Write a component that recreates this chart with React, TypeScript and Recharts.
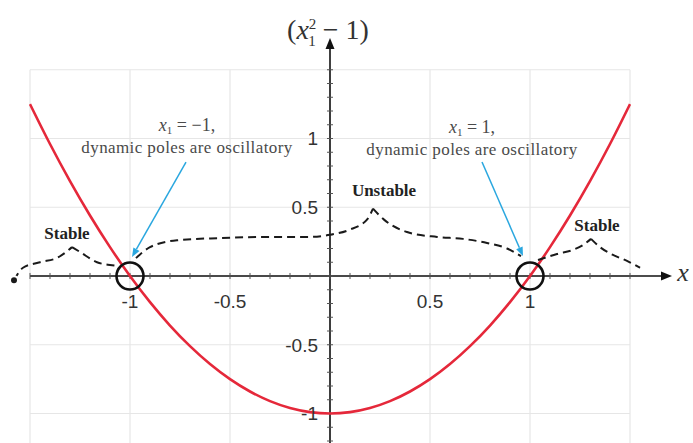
import React from 'react';
import { ComposedChart, Line, XAxis, YAxis, ReferenceLine, ReferenceDot } from 'recharts';

// f(x) = x^2 - 1 sampled every 0.1
const curveX = [-1.5, -1.4, -1.3, -1.2, -1.1, -1.0, -0.9, -0.8, -0.7, -0.6, -0.5, -0.4, -0.3, -0.2, -0.1, 0,
  0.1, 0.2, 0.3, 0.4, 0.5, 0.6, 0.7, 0.8, 0.9, 1.0, 1.1, 1.2, 1.3, 1.4, 1.5];
const curveY = [1.25, 0.96, 0.69, 0.44, 0.21, 0, -0.19, -0.36, -0.51, -0.64, -0.75, -0.84, -0.91, -0.96, -0.99, -1,
  -0.99, -0.96, -0.91, -0.84, -0.75, -0.64, -0.51, -0.36, -0.19, 0, 0.21, 0.44, 0.69, 0.96, 1.25];

// Dashed braces marking the stability regions (each brace = two halves meeting at its tip)
const stableLeftAX = [-1.58, -1.535, -1.45, -1.36, -1.29];
const stableLeftAY = [-0.03, 0.06, 0.1, 0.135, 0.21];
const stableLeftBX = [-1.29, -1.25, -1.165, -1.1, -1.06];
const stableLeftBY = [0.21, 0.175, 0.1, 0.08, 0.073];

const unstableAX = [-0.97, -0.9, -0.765, -0.545, -0.325, -0.105, 0, 0.095, 0.185, 0.215];
const unstableAY = [0.13, 0.21, 0.26, 0.276, 0.284, 0.284, 0.3, 0.335, 0.41, 0.49];
const unstableBX = [0.215, 0.27, 0.385, 0.535, 0.665, 0.785, 0.885, 0.955];
const unstableBY = [0.49, 0.41, 0.32, 0.284, 0.27, 0.24, 0.2, 0.145];

const stableRightAX = [1.04, 1.135, 1.215, 1.265, 1.305];
const stableRightAY = [0.116, 0.16, 0.19, 0.225, 0.27];
const stableRightBX = [1.305, 1.35, 1.415, 1.485, 1.55];
const stableRightBY = [0.27, 0.21, 0.153, 0.11, 0.06];

// Equilibrium points where the poles are oscillatory
const equilibria = [-1, 1];

// Axis tick labels and grid
const xTickLabels = [-1, -0.5, 0.5, 1];
const yTickLabels = [1, 0.5, -0.5, -1];
const gridX = [-1.5, -1, -0.5, 0, 0.5, 1, 1.5];
const gridY = [1.5, 1, 0.5, 0, -0.5, -1];
const minorX = Array.from({ length: 31 }, (_, i) => Math.round((-1.5 + i * 0.1) * 10) / 10);
const minorY = Array.from({ length: 28 }, (_, i) => Math.round((-1.2 + i * 0.1) * 10) / 10);

const zip = (xs: number[], ys: number[]) => xs.map((x, i) => ({ x, y: ys[i] }));

const curve = zip(curveX, curveY);
const braces = [
  zip(stableLeftAX, stableLeftAY),
  zip(stableLeftBX, stableLeftBY),
  zip(unstableAX, unstableAY),
  zip(unstableBX, unstableBY),
  zip(stableRightAX, stableRightAY),
  zip(stableRightBX, stableRightBY),
];

const X_DOMAIN: [number, number] = [-1.65, 1.815];
const Y_DOMAIN: [number, number] = [-1.2145, 2.0073];

const arrowShape = (color: string, width: number, head: number, half: number) => (props: any) => {
  const { x1, y1, x2, y2 } = props;
  const ang = Math.atan2(y2 - y1, x2 - x1);
  const hx = x2 - head * Math.cos(ang);
  const hy = y2 - head * Math.sin(ang);
  const px = -Math.sin(ang) * half;
  const py = Math.cos(ang) * half;
  return (
    <g>
      <line x1={x1} y1={y1} x2={hx} y2={hy} stroke={color} strokeWidth={width} />
      <polygon points={`${x2},${y2} ${hx + px},${hy + py} ${hx - px},${hy - py}`} fill={color} />
    </g>
  );
};

const serif = 'Liberation Serif, DejaVu Serif, serif';
const sans = 'Liberation Sans, Arial, sans-serif';

const at = (render: (x: number, y: number) => React.ReactNode) => ({
  content: (p: any) => {
    const vb = p.viewBox || {};
    return render(vb.x ?? 0, vb.y ?? 0);
  },
});

const Annotation = (value: string) => (x: number, y: number) => (
  <g>
    <text x={x} y={y - 3} textAnchor="middle" fontFamily={serif} fontSize={18} fill="#4a4a4a">
      <tspan fontStyle="italic">x</tspan>
      <tspan fontSize={11} dy={3}>1</tspan>
      <tspan dy={-3}>{` = ${value},`}</tspan>
    </text>
    <text x={x} y={y + 19} textAnchor="middle" fontFamily={serif} fontSize={17} letterSpacing={0.4} fill="#4a4a4a">
      dynamic poles are oscillatory
    </text>
  </g>
);

const braceLabel = { position: 'center' as const, fill: '#222', fontSize: 17, fontWeight: 'bold', fontFamily: serif };

export default function App() {
  return (
    <div style={{ position: 'absolute', left: 0, top: 0, width: 693, height: 443, background: '#fff' }}>
      <ComposedChart width={693} height={443} margin={{ top: 0, right: 0, bottom: 0, left: 0 }}>
        <XAxis type="number" dataKey="x" domain={X_DOMAIN} allowDataOverflow hide />
        <YAxis type="number" dataKey="y" domain={Y_DOMAIN} allowDataOverflow hide />

        {gridX.map((g) => (
          <ReferenceLine key={`gx${g}`} segment={[{ x: g, y: -1.2145 }, { x: g, y: 1.5 }]} stroke="#e6e6e6" strokeWidth={1.2} />
        ))}
        {gridY.map((g) => (
          <ReferenceLine key={`gy${g}`} segment={[{ x: -1.5, y: g }, { x: 1.5, y: g }]} stroke="#e6e6e6" strokeWidth={1.2} />
        ))}

        {/* axes through the origin */}
        <ReferenceLine segment={[{ x: -1.5, y: 0 }, { x: 1.71, y: 0 }]} shape={arrowShape('#111', 1.6, 11, 4.5)} />
        <ReferenceLine segment={[{ x: 0, y: -1.2145 }, { x: 0, y: 1.731 }]} shape={arrowShape('#111', 1.6, 11, 4.5)} />
        {minorX.map((v) => (
          <ReferenceLine key={`mx${v}`} segment={[{ x: v, y: -0.022 }, { x: v, y: 0.022 }]} stroke="#555" strokeWidth={1} />
        ))}
        {minorY.map((v) => (
          <ReferenceLine key={`my${v}`} segment={[{ x: -0.015, y: v }, { x: 0.015, y: v }]} stroke="#555" strokeWidth={1} />
        ))}

        <Line data={curve} dataKey="y" type="monotone" stroke="#e5283a" strokeWidth={2.6} dot={false} isAnimationActive={false} />
        {braces.map((b, i) => (
          <Line key={`b${i}`} data={b} dataKey="y" type="monotone" stroke="#1a1a1a" strokeWidth={2}
            strokeDasharray="8 5" dot={false} isAnimationActive={false} />
        ))}

        {xTickLabels.map((v) => (
          <ReferenceDot key={`xl${v}`} x={v} y={0} r={0} fill="none" stroke="none"
            label={{ value: String(v), position: 'bottom', offset: 19, fill: '#333', fontSize: 19, fontFamily: sans }} />
        ))}
        {yTickLabels.map((v) => (
          <ReferenceDot key={`yl${v}`} x={0} y={v} r={0} fill="none" stroke="none"
            label={{ value: String(v), position: 'left', offset: 12, fill: '#333', fontSize: 19, fontFamily: sans }} />
        ))}

        {/* equilibrium markers */}
        {equilibria.map((v) => (
          <ReferenceDot key={`eq${v}`} x={v} y={0} r={13.5} fill="none" stroke="#111" strokeWidth={2.6} />
        ))}

        {/* pointers from the notes to the equilibria */}
        <ReferenceLine segment={[{ x: -0.72, y: 0.829 }, { x: -0.99, y: 0.138 }]} shape={arrowShape('#2aa7df', 1.5, 9, 3.5)} />
        <ReferenceLine segment={[{ x: 0.76, y: 0.829 }, { x: 0.965, y: 0.145 }]} shape={arrowShape('#2aa7df', 1.5, 9, 3.5)} />

        <ReferenceDot x={-0.715} y={1.03} r={0} fill="none" stroke="none" label={at(Annotation('\u2212' + '1'))} />
        <ReferenceDot x={0.71} y={1.02} r={0} fill="none" stroke="none" label={at(Annotation('1'))} />

        <ReferenceDot x={-1.315} y={0.313} r={0} fill="none" stroke="none" label={{ value: 'Stable', ...braceLabel }} />
        <ReferenceDot x={0.27} y={0.625} r={0} fill="none" stroke="none" label={{ value: 'Unstable', ...braceLabel }} />
        <ReferenceDot x={1.335} y={0.371} r={0} fill="none" stroke="none" label={{ value: 'Stable', ...braceLabel }} />

        {/* axis titles */}
        <ReferenceDot x={-0.01} y={1.789} r={0} fill="none" stroke="none"
          label={at((x, y) => (
            <text x={x} y={y + 9} textAnchor="middle" fontFamily={serif} fontSize={28} fill="#333">
              (<tspan fontStyle="italic">x</tspan>
              <tspan fontSize={15} dy={-10}>2</tspan>
              <tspan fontSize={15} dx={-8} dy={17}>1</tspan>
              <tspan dy={-7}>{' \u2212 1)'}</tspan>
            </text>
          ))} />
        <ReferenceDot x={1.765} y={0} r={0} fill="none" stroke="none"
          label={at((x, y) => (
            <text x={x} y={y + 5} textAnchor="middle" fontFamily={serif} fontStyle="italic" fontSize={26} fill="#333">x</text>
          ))} />
      </ComposedChart>
    </div>
  );
}
